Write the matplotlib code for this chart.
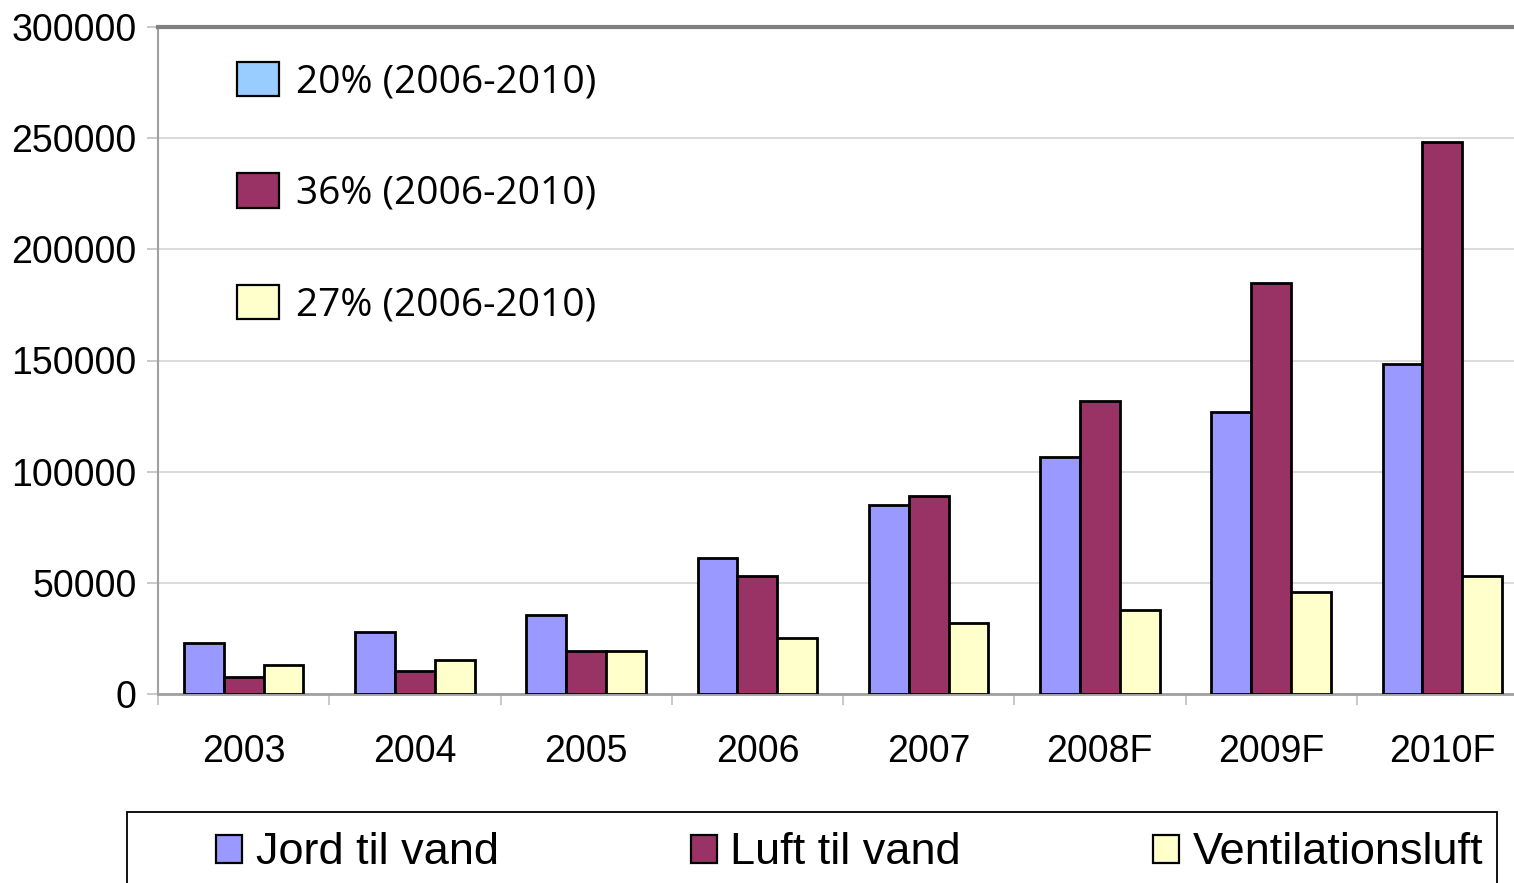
import numpy as np
import matplotlib
matplotlib.use('Agg')
import matplotlib.pyplot as plt
from matplotlib.patches import Patch, Rectangle

years = ['2003', '2004', '2005', '2006', '2007', '2008F', '2009F', '2010F']
jord  = [23000, 28000, 35500, 61000, 85000, 106500, 127000, 148500]
luft  = [7500, 10500, 19500, 53000, 89000, 132000, 185000, 248500]
vent  = [13000, 15500, 19500, 25000, 32000, 38000, 46000, 53000]
series_names = ['Jord til vand', 'Luft til vand', 'Ventilationsluft']
growth_labels = ['20% (2006-2010)', '36% (2006-2010)', '27% (2006-2010)']

c_jord = '#9999FF'
c_luft = '#993366'
c_vent = '#FFFFCC'
c_growth = ['#99CCFF', '#993366', '#FFFFCC']

W, H = 1514, 883
fig = plt.figure(figsize=(W/100., H/100.), dpi=100)
fig.patch.set_facecolor('white')

# plot area runs past the right edge of the picture
ax = fig.add_axes([158./W, (H-694.)/H, (1528.-158.)/W, (694.-27.)/H])

x = np.arange(len(years))
bw = 0.233
ax.bar(x - bw, jord, bw, color=c_jord, edgecolor='black', linewidth=2.0, zorder=3)
ax.bar(x,      luft, bw, color=c_luft, edgecolor='black', linewidth=2.0, zorder=3)
ax.bar(x + bw, vent, bw, color=c_vent, edgecolor='black', linewidth=2.0, zorder=3)

ax.set_xlim(-0.5, len(years) - 0.5)
ax.set_ylim(0, 300000)
ax.set_yticks(np.arange(0, 300001, 50000))
ax.yaxis.grid(True, color='#d4d4d4', linewidth=1.2, zorder=0)
ax.set_axisbelow(True)

# category boundaries get the tick marks, labels sit in the middle
ax.set_xticks(np.arange(len(years)) - 0.5)
ax.set_xticklabels([])
ax.set_xticks(x, minor=True)
ax.set_xticklabels(years, minor=True)
ax.tick_params(axis='x', which='major', length=8, width=1.2, color='#c0c0c0', direction='out')
ax.tick_params(axis='x', which='minor', length=0, pad=29, labelsize=27)
ax.tick_params(axis='y', length=8, width=1.2, color='#c0c0c0', pad=7.5, labelsize=27)

for lab in ax.get_xticklabels(minor=True) + ax.get_yticklabels():
    lab.set_family('Liberation Sans')

ax.spines['left'].set_color('#a0a0a0')
ax.spines['left'].set_linewidth(1.5)
ax.spines['bottom'].set_color('#a0a0a0')
ax.spines['bottom'].set_linewidth(2)
ax.spines['top'].set_color('#808080')
ax.spines['top'].set_linewidth(3)
ax.spines['right'].set_visible(False)

# growth legend inside the plot
handles = [Patch(facecolor=c, edgecolor='black', linewidth=1.6) for c in c_growth]
leg1 = fig.legend(handles, growth_labels, loc='upper left',
                  bbox_to_anchor=(237./W, 1 - 62./H), frameon=False,
                  borderpad=0, borderaxespad=0,
                  handlelength=1.08, handleheight=0.98, handletextpad=0.45,
                  labelspacing=1.85, prop={'family': 'Open Sans', 'size': 28})

# series legend at the bottom
fig.patches.append(Rectangle((127./W, -10./H), (1497.-127.)/W, (883.-812.+10.)/H,
                             transform=fig.transFigure, facecolor='white',
                             edgecolor='black', linewidth=1.3))
sh = [Patch(facecolor=c, edgecolor='black', linewidth=1.6) for c in (c_jord, c_luft, c_vent)]
leg2 = fig.legend(sh, series_names, loc='center left', ncol=3,
                  bbox_to_anchor=(216./W, 1 - 853./H), frameon=False,
                  borderpad=0, borderaxespad=0,
                  handlelength=0.58, handleheight=0.58, handletextpad=0.3,
                  columnspacing=4.25, prop={'family': 'Liberation Sans', 'size': 32.5})

fig.savefig('out.png', dpi=100)
